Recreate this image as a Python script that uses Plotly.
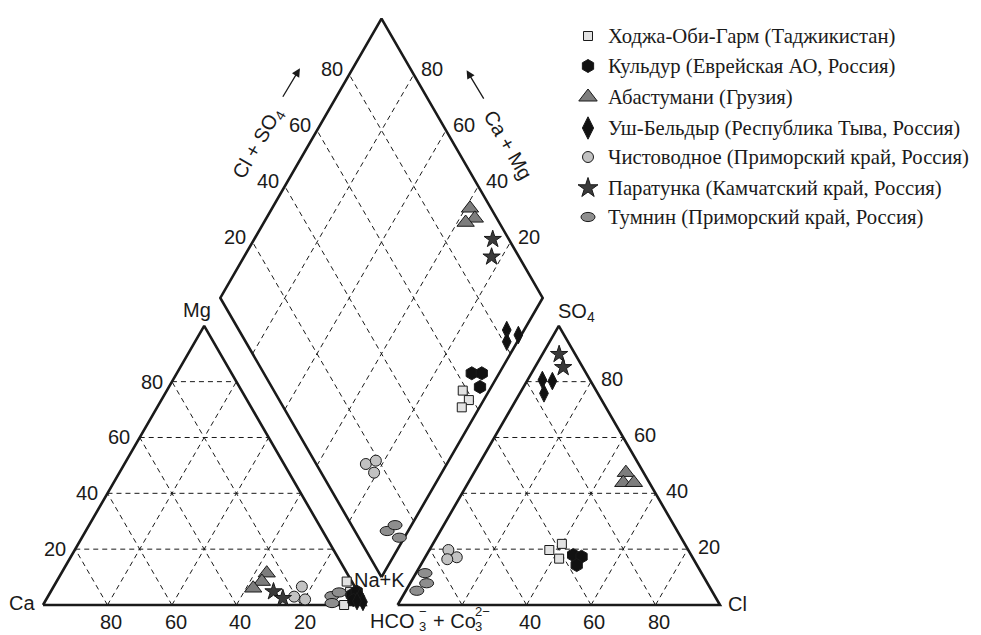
import numpy as np
import plotly.graph_objects as go

# ---------------- data (percent) ----------------
SAMPLES = [
    "Ходжа-Оби-Гарм (Таджикистан)",
    "Кульдур (Еврейская АО, Россия)",
    "Абастумани (Грузия)",
    "Уш-Бельдыр (Республика Тыва, Россия)",
    "Чистоводное (Приморский край, Россия)",
    "Паратунка (Камчатский край, Россия)",
    "Тумнин (Приморский край, Россия)",
]
# cation triangle: Mg and Na+K (Ca = rest)
CAT_MG = [[8.4, 0.0, 4.7], [3.6, 4.8, 1.8], [11.4, 8.4, 6.0], [3.0, 1.1, 1.4],
          [6.6, 3.0, 2.0], [4.8, 2.4], [3.2, 0.7, 4.5]]
CAT_NAK = [[90.0, 93.4, 92.9], [94.0, 94.9, 95.4], [63.7, 63.7, 62.2], [96.9, 98.7, 96.7],
           [77.0, 76.4, 80.3], [69.1, 73.2], [88.0, 89.3, 89.6]]
# anion triangle: SO4 and Cl (HCO3+CO3 = rest)
AN_SO4 = [[19.7, 21.9, 16.6], [17.9, 17.3, 14.3], [47.4, 43.8, 43.8], [80.6, 80.2, 75.8],
          [19.7, 17.1, 16.4], [89.8, 85.1], [11.4, 7.8, 5.1]]
AN_CL = [[37.2, 40.0, 41.8], [45.5, 48.4, 48.4], [47.1, 48.1, 51.4], [4.6, 7.9, 7.5],
         [5.9, 9.8, 7.2], [5.2, 8.8], [2.8, 5.1, 3.4]]
# diamond: Ca+Mg and Cl+SO4
DIA_CAMG = [[8.2, 4.6, 5.5], [8.5, 5.4, 3.5], [38.6, 35.3, 37.4], [5.4, 3.3, 0.9],
            [25.1, 22.6, 21.0], [26.0, 23.2], [6.5, 5.1, 1.5]]
DIA_CLSO4 = [[58.6, 58.8, 55.3], [64.5, 67.6, 64.6], [93.5, 93.2, 89.6], [83.1, 81.0, 85.8],
             [15.4, 19.1, 16.4], [95.0, 91.5], [10.0, 13.5, 12.6]]
TICKS = [20, 40, 60, 80]

# ---------------- styles ----------------
SYMBOLS = ["square", "hexagon", "triangle-up", "diamond-tall", "circle", "star", "ellipse"]
FILLS = ["#e2e2e2", "#111111", "#7d7d7d", "#111111", "#c2c2c2", "#3a3a3a", "#8e8e8e"]
SIZES = [9, 13, 15, 12.5, 11, 13, 0]
LEG_SIZES = [9, 13, 16, 16, 11, 15, 0]
INK = "#1a1a1a"
SANS = "Liberation Sans, Arial, sans-serif"
SERIF = "Liberation Serif, Times New Roman, serif"

GAP = 10.0
S3 = np.sqrt(3) / 2


def cat_xy(mg, nak):
    mg = np.asarray(mg, float); nak = np.asarray(nak, float)
    return nak + mg / 2, mg * S3


def an_xy(so4, cl):
    so4 = np.asarray(so4, float); cl = np.asarray(cl, float)
    return 100 + GAP + cl + so4 / 2, so4 * S3


def dia_xy(camg, clso4):
    camg = np.asarray(camg, float); clso4 = np.asarray(clso4, float)
    bx, by = 100 + GAP / 2, GAP / 2 * np.sqrt(3)
    return bx + 0.5 * (clso4 - camg), by + S3 * (camg + clso4)


fig = go.Figure()


def add_segments(segs, width, dash, color=INK):
    xs, ys = [], []
    for (x0, y0), (x1, y1) in segs:
        xs += [float(x0), float(x1), None]
        ys += [float(y0), float(y1), None]
    fig.add_trace(go.Scatter(x=xs, y=ys, mode="lines", hoverinfo="skip", showlegend=False,
                             line=dict(color=color, width=width, dash=dash)))


# grid
grid = []
for p in TICKS:
    q = 100 - p
    grid += [(cat_xy(p, 0), cat_xy(p, q)), (cat_xy(0, p), cat_xy(q, p)), (cat_xy(0, q), cat_xy(q, 0))]
    grid += [(an_xy(p, 0), an_xy(p, q)), (an_xy(0, p), an_xy(q, p)), (an_xy(0, q), an_xy(q, 0))]
    grid += [(dia_xy(p, 0), dia_xy(p, 100)), (dia_xy(0, p), dia_xy(100, p))]
add_segments(grid, 1, "5px,4px")


def outline(pts):
    xs = [float(p[0]) for p in pts] + [float(pts[0][0])]
    ys = [float(p[1]) for p in pts] + [float(pts[0][1])]
    fig.add_trace(go.Scatter(x=xs, y=ys, mode="lines", hoverinfo="skip", showlegend=False,
                             line=dict(color=INK, width=2.6)))


outline([cat_xy(0, 0), cat_xy(0, 100), cat_xy(100, 0)])
outline([an_xy(0, 0), an_xy(0, 100), an_xy(100, 0)])
outline([dia_xy(0, 0), dia_xy(100, 0), dia_xy(100, 100), dia_xy(0, 100)])

shapes = []
for i, name in enumerate(SAMPLES):
    cx, cy = cat_xy(CAT_MG[i], CAT_NAK[i])
    ax_, ay_ = an_xy(AN_SO4[i], AN_CL[i])
    dx, dy = dia_xy(DIA_CAMG[i], DIA_CLSO4[i])
    X = np.concatenate([cx, ax_, dx]); Y = np.concatenate([cy, ay_, dy])
    if SYMBOLS[i] == "ellipse":
        for x, y in zip(X, Y):
            shapes.append(dict(type="circle", xref="x", yref="y", xsizemode="pixel", ysizemode="pixel",
                               xanchor=float(x), yanchor=float(y), x0=-7, x1=7, y0=-4.6, y1=4.6,
                               fillcolor=FILLS[i], line=dict(color=INK, width=1)))
    else:
        fig.add_trace(go.Scatter(x=X, y=Y, mode="markers", name=name, showlegend=False,
                                 hoverinfo="skip",
                                 marker=dict(symbol=SYMBOLS[i], size=SIZES[i], color=FILLS[i],
                                             line=dict(color=INK, width=1))))

# ---------------- axis texts ----------------
ann = []


def txt(x, y, t, size=20, xa="center", ya="middle", angle=0, font=SANS, ref=("x", "y")):
    ann.append(dict(x=float(x), y=float(y), xref=ref[0], yref=ref[1], text=t, showarrow=False,
                    xanchor=xa, yanchor=ya, textangle=angle,
                    font=dict(family=font, size=size, color=INK)))


for p in TICKS:
    x, y = cat_xy(p, 0)
    txt(x - 2.3, y, str(p), xa="right")
    x, y = cat_xy(0, 100 - p)
    txt(x + 1.2, -5.3, str(p))
    x, y = an_xy(p, 100 - p)
    txt(x + 2.6, y + 0.7, str(p), xa="left")
    x, y = dia_xy(100, p)
    txt(x - 1.3, y + 1.6, str(p), xa="right")
    x, y = dia_xy(p, 100)
    txt(x + 1.7, y + 1.6, str(p), xa="left")
for p in [40, 60, 80]:
    x, y = an_xy(0, p)
    txt(x + 1.0, -5.3, str(p))

txt(-6.5, 0.6, "Ca")
txt(47.7, 91.5, "Mg")
txt(104.5, 7.8, "Na+K")
txt(165.6, 90.6, "SO<sub>4</sub>")
txt(215.3, 0.4, "Cl")
txt(66.8, 143.2, "Cl + SO<sub>4</sub>", angle=-60)
txt(144.3, 142.7, "Ca + Mg", angle=60)

# HCO3- + CO3 2- label with stacked sub/superscripts (pixel-placed on overlay axis)
P = ("x2", "y2")
txt(416, 621, "HCO", xa="right", ref=P)
txt(417, 626.5, "3", size=13, xa="left", ref=P)
txt(417, 611, "−", size=13, xa="left", ref=P)
txt(431, 621, "+ Co", xa="left", ref=P)
txt(473, 626.5, "3", size=13, xa="left", ref=P)
txt(473, 611, "2−", size=13, xa="left", ref=P)

for hx, hy, tx in [(79.7, 166.5, -18), (131.4, 165.9, 18)]:
    ann.append(dict(x=hx, y=hy, xref="x", yref="y", text="", showarrow=True, ax=tx, ay=30,
                    arrowhead=2, arrowsize=1.3, arrowwidth=1.3, arrowcolor=INK))

# ---------------- legend (drawn manually) ----------------
LEG_X = 588
LEG_Y = [36, 66, 97, 128, 157, 188, 217]
for i, name in enumerate(SAMPLES):
    if SYMBOLS[i] == "ellipse":
        shapes.append(dict(type="circle", xref="x2", yref="y2", xsizemode="pixel", ysizemode="pixel",
                           xanchor=LEG_X, yanchor=LEG_Y[i], x0=-7, x1=7, y0=-4.6, y1=4.6,
                           fillcolor=FILLS[i], line=dict(color=INK, width=1)))
    else:
        fig.add_trace(go.Scatter(x=[LEG_X], y=[LEG_Y[i]], xaxis="x2", yaxis="y2", mode="markers",
                                 showlegend=False, hoverinfo="skip",
                                 marker=dict(symbol=SYMBOLS[i], size=LEG_SIZES[i], color=FILLS[i],
                                             line=dict(color=INK, width=1))))
    ann.append(dict(x=606, y=LEG_Y[i], xref="x2", yref="y2", text=name, showarrow=False,
                    xanchor="left", yanchor="middle",
                    font=dict(family=SERIF, size=20.7, color=INK)))

K = 3.2238
fig.update_layout(
    width=981, height=635, margin=dict(l=0, r=0, t=0, b=0),
    paper_bgcolor="white", plot_bgcolor="white", showlegend=False,
    xaxis=dict(range=[-43 / K, (981 - 43) / K], visible=False, fixedrange=True),
    yaxis=dict(range=[(605 - 635) / K, 605 / K], visible=False, fixedrange=True),
    xaxis2=dict(domain=[0, 1], anchor="y2", range=[0, 981], visible=False, overlaying="x",
                fixedrange=True),
    yaxis2=dict(domain=[0, 1], anchor="x2", range=[635, 0], visible=False, overlaying="y",
                fixedrange=True),
    shapes=shapes, annotations=ann,
)
fig.write_html("out.html", config={"displayModeBar": False, "staticPlot": True},
               post_script="document.body.style.margin='0px';document.body.style.overflow='hidden';")
